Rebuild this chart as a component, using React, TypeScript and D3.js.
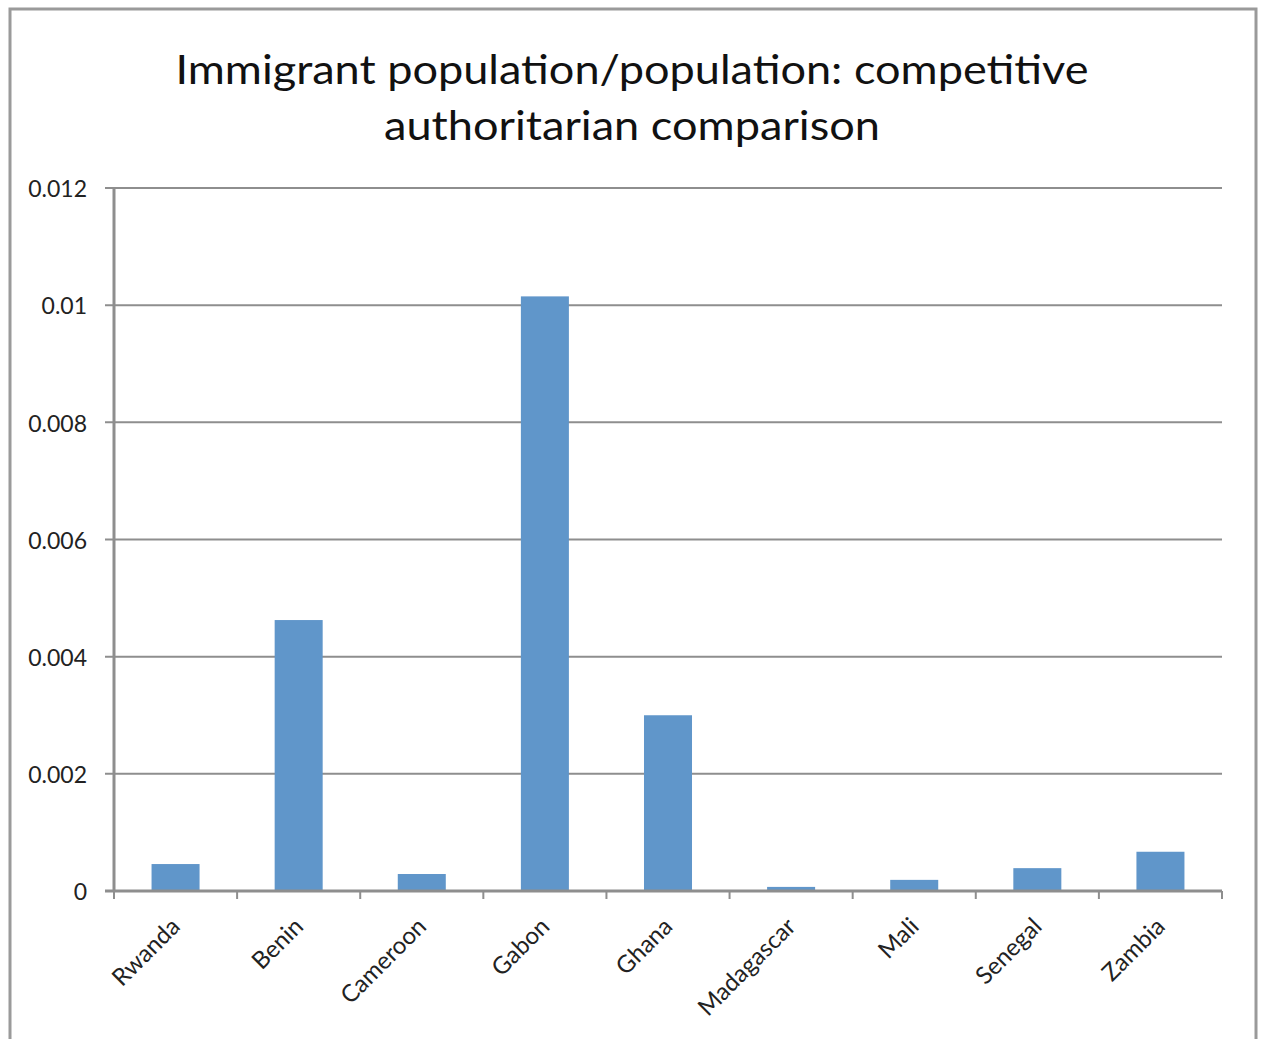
import React from "react";
import * as d3 from "d3";

const categories = ["Rwanda", "Benin", "Cameroon", "Gabon", "Ghana", "Madagascar", "Mali", "Senegal", "Zambia"];
const values = [0.00046, 0.004625, 0.00029, 0.01015, 0.0030, 0.00007, 0.00019, 0.00039, 0.00067];
const yTicks = [0, 0.002, 0.004, 0.006, 0.008, 0.01, 0.012];
const yTickLabels = ["0", "0.002", "0.004", "0.006", "0.008", "0.01", "0.012"];
const titleLines = ["Immigrant population/population: competitive", "authoritarian comparison"];

const W = 1261;
const H = 1039;
const left = 114;
const right = 1222;
const top = 188;
const bottom = 891;
const font = "Lato, 'Open Sans', sans-serif";
const gridColor = "#8e8e8e";

export default function App() {
  const x = d3.scaleBand<string>().domain(categories).range([left, right]).paddingInner(0.61).paddingOuter(0.305);
  const band = d3.scaleBand<string>().domain(categories).range([left, right]);
  const y = d3.scaleLinear().domain([0, 0.012]).range([bottom, top]);

  return (
    <div style={{ position: "absolute", left: 0, top: 0 }}>
      <svg width={W} height={H} style={{ display: "block", background: "#fff" }}>
        <rect x={10} y={9} width={1246} height={1040} fill="#fff" stroke="#9a9a9a" strokeWidth={3} />
        {titleLines.map((t, i) => (
          <text
            key={i}
            x={632}
            y={84 + i * 56}
            textAnchor="middle"
            fontFamily={font}
            fontSize={40}
            fill="#111"
            textLength={i === 0 ? 913 : 496}
            lengthAdjust="spacingAndGlyphs"
          >
            {t}
          </text>
        ))}
        {yTicks.map((t, i) => (
          <g key={i}>
            <line x1={left - 9} x2={right} y1={y(t)} y2={y(t)} stroke={gridColor} strokeWidth={2} />
            <text x={87} y={y(t)} dy="0.4em" textAnchor="end" fontFamily={font} fontSize={23} fill="#222">
              {yTickLabels[i]}
            </text>
          </g>
        ))}
        {categories.map((c, i) => (
          <rect key={c} x={x(c)} y={y(values[i])} width={x.bandwidth()} height={bottom - y(values[i])} fill="#6096ca" />
        ))}
        <line x1={left} x2={left} y1={top} y2={bottom} stroke={gridColor} strokeWidth={3} />
        <line x1={left - 9} x2={right} y1={bottom} y2={bottom} stroke={gridColor} strokeWidth={3} />
        {[...categories.map((c) => band(c) as number), right].map((t, i) => (
          <line key={i} x1={t} x2={t} y1={bottom} y2={bottom + 8} stroke={gridColor} strokeWidth={2} />
        ))}
        {categories.map((c) => {
          const cx = (band(c) as number) + band.bandwidth() / 2;
          return (
            <text
              key={c}
              transform={`translate(${cx + 6},${928}) rotate(-45)`}
              textAnchor="end"
              fontFamily={font}
              fontSize={24}
              fill="#222"
            >
              {c}
            </text>
          );
        })}
      </svg>
    </div>
  );
}
